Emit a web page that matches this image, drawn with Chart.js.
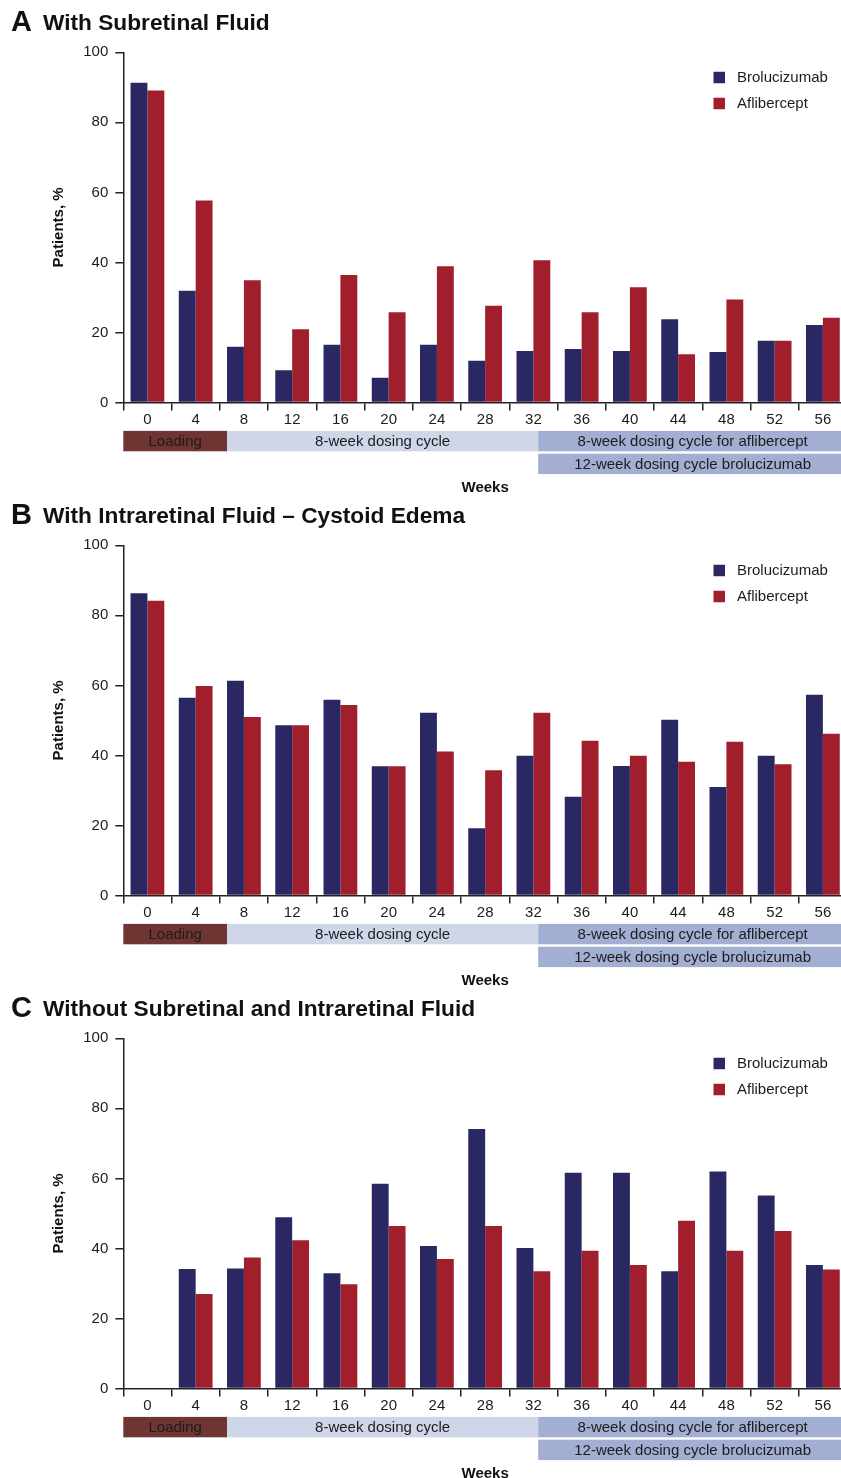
<!DOCTYPE html>
<html>
<head>
<meta charset="utf-8">
<script src="https://cdn.jsdelivr.net/npm/chart.js@4/dist/chart.umd.min.js"></script>
<style>
  html, body { margin: 0; padding: 0; background: #fff; overflow: hidden; }
  #wrap { width: 841px; overflow: hidden; }
  canvas { display: block; }
</style>
</head>
<body>
<div id="wrap">
  <canvas id="panelA" width="847" height="493"></canvas>
  <canvas id="panelB" width="847" height="493"></canvas>
  <canvas id="panelC" width="847" height="492"></canvas>
</div>
<script>
// Study visit weeks (x categories)
const weeks = ['0', '4', '8', '12', '16', '20', '24', '28', '32', '36', '40', '44', '48', '52', '56'];
const seriesNames = ['Brolucizumab', 'Aflibercept'];
const yTicks = [0, 20, 40, 60, 80, 100];

// A: patients with subretinal fluid, %
const subretinalBrolucizumab = [91.3, 31.9, 15.9, 9.2, 16.5, 7.1, 16.5, 11.9, 14.7, 15.3, 14.7, 23.8, 14.4, 17.6, 22.1];
const subretinalAflibercept  = [89.1, 57.7, 34.9, 20.9, 36.4, 25.8, 38.9, 27.6, 40.6, 25.8, 32.9, 13.8, 29.4, 17.6, 24.2];

// B: patients with intraretinal fluid (cystoid edema), %
const intraretinalBrolucizumab = [86.3, 56.5, 61.3, 48.6, 55.9, 36.9, 52.2, 19.2, 39.9, 28.2, 37.0, 50.2, 31.0, 39.9, 57.3];
const intraretinalAflibercept  = [84.2, 59.8, 51.0, 48.6, 54.4, 36.9, 41.1, 35.8, 52.2, 44.2, 39.9, 38.2, 43.9, 37.5, 46.2];

// C: patients without subretinal and intraretinal fluid, %
const dryBrolucizumab = [0, 34.1, 34.3, 48.9, 32.9, 58.5, 40.7, 74.1, 40.1, 61.6, 61.6, 33.5, 62.0, 55.1, 35.3];
const dryAflibercept  = [0, 27.0, 37.4, 42.3, 29.8, 46.4, 37.0, 46.4, 33.5, 39.3, 35.3, 47.9, 39.3, 45.0, 34.0];

// Dosing schedule phases, in weeks, with the row they sit in below the axis
const phaseLabels = ['Loading', '8-week dosing cycle', '8-week dosing cycle for aflibercept', '12-week dosing cycle brolucizumab'];
const phaseStartWeek = [-2, 6.6, 32.4, 32.4];
const phaseEndWeek   = [6.6, 32.4, 58, 58];
const phaseRow       = [0, 0, 0, 1];

const FONT = '"Liberation Sans", Arial, Helvetica, sans-serif';
const BLUE = '#2a2862';
const RED = '#a11e2c';
const INK = '#1c1c1c';
const phaseFill = ['#6f3532', '#cfd6e8', '#a3aed3', '#a3aed3'];

// Draws panel heading, legend, y-axis title, dosing phase bands and "Weeks"
const panelDecor = {
  id: 'panelDecor',
  afterDraw(chart, args, opts) {
    const { ctx, chartArea } = chart;
    const x = chart.scales.x;
    ctx.save();

    // heading
    ctx.fillStyle = '#111';
    ctx.textAlign = 'left';
    ctx.textBaseline = 'alphabetic';
    ctx.font = 'bold 29px ' + FONT;
    ctx.fillText(opts.letter, 11, 31);
    ctx.font = 'bold 22.7px ' + FONT;
    ctx.fillText(opts.title, 43, 30);

    // legend
    ctx.font = '15px ' + FONT;
    ctx.textBaseline = 'middle';
    chart.data.datasets.forEach((ds, i) => {
      const cy = 77.5 + i * 26;
      ctx.fillStyle = ds.backgroundColor;
      ctx.fillRect(713.5, cy - 5.75, 11.5, 11.5);
      ctx.fillStyle = INK;
      ctx.fillText(ds.label, 737, cy);
    });

    // y-axis title
    ctx.save();
    ctx.translate(62.5, (chartArea.top + chartArea.bottom) / 2);
    ctx.rotate(-Math.PI / 2);
    ctx.font = 'bold 15px ' + FONT;
    ctx.textAlign = 'center';
    ctx.textBaseline = 'alphabetic';
    ctx.fillStyle = '#111';
    ctx.fillText('Patients, %', 0, 0);
    ctx.restore();

    // dosing phase bands
    const rowTop = [chartArea.bottom + 28.4, chartArea.bottom + 51.2];
    const rowH = 20.4;
    phaseLabels.forEach((label, i) => {
      const x0 = x.getPixelForValue(phaseStartWeek[i] / 4);
      const x1 = x.getPixelForValue(phaseEndWeek[i] / 4);
      const y0 = rowTop[phaseRow[i]];
      ctx.fillStyle = phaseFill[i];
      ctx.fillRect(x0, y0, x1 - x0, rowH);
      ctx.fillStyle = INK;
      ctx.font = '15px ' + FONT;
      ctx.textAlign = 'center';
      ctx.textBaseline = 'middle';
      ctx.fillText(label, (x0 + x1) / 2, y0 + rowH / 2 + 0.5);
    });

    // x-axis title
    ctx.font = 'bold 15px ' + FONT;
    ctx.fillStyle = '#111';
    ctx.textAlign = 'center';
    ctx.textBaseline = 'middle';
    ctx.fillText('Weeks', (chartArea.left + chartArea.right) / 2, chartArea.bottom + 85);

    ctx.restore();
  }
};

function makePanel(id, letter, title, brolu, afli) {
  const canvas = document.getElementById(id);
  const H = canvas.height;
  return new Chart(canvas, {
    type: 'bar',
    data: {
      labels: weeks,
      datasets: [
        { label: seriesNames[0], data: brolu, backgroundColor: BLUE, borderWidth: 0 },
        { label: seriesNames[1], data: afli, backgroundColor: RED, borderWidth: 0 }
      ]
    },
    options: {
      responsive: false,
      animation: false,
      devicePixelRatio: 1,
      layout: { padding: { top: 52.3, left: 0, right: 0, bottom: H - 402.5 - 30 } },
      datasets: { bar: { categoryPercentage: 0.7, barPercentage: 1.0 } },
      plugins: {
        legend: { display: false },
        tooltip: { enabled: false },
        title: { display: false },
        panelDecor: { letter, title }
      },
      scales: {
        x: {
          grid: { display: true, offset: true, drawOnChartArea: false, drawTicks: true, tickLength: 8, color: '#222', lineWidth: 1.5 },
          border: { display: true, color: '#222', width: 1.5 },
          ticks: { color: INK, font: { family: FONT, size: 15 }, padding: 0, maxRotation: 0, autoSkip: false },
          afterFit(scale) { scale.height = 30; }
        },
        y: {
          min: 0,
          max: 100,
          afterBuildTicks(scale) { scale.ticks = yTicks.map(v => ({ value: v })); },
          grid: { display: true, drawOnChartArea: false, drawTicks: true, tickLength: 8, color: '#222', lineWidth: 1.5 },
          border: { display: true, color: '#222', width: 1.5 },
          ticks: { color: INK, font: { family: FONT, size: 15 }, padding: 7 },
          afterFit(scale) { scale.width = 123.3; }
        }
      }
    },
    plugins: [panelDecor]
  });
}

makePanel('panelA', 'A', 'With Subretinal Fluid', subretinalBrolucizumab, subretinalAflibercept);
makePanel('panelB', 'B', 'With Intraretinal Fluid \u2013 Cystoid Edema', intraretinalBrolucizumab, intraretinalAflibercept);
makePanel('panelC', 'C', 'Without Subretinal and Intraretinal Fluid', dryBrolucizumab, dryAflibercept);
</script>
</body>
</html>
